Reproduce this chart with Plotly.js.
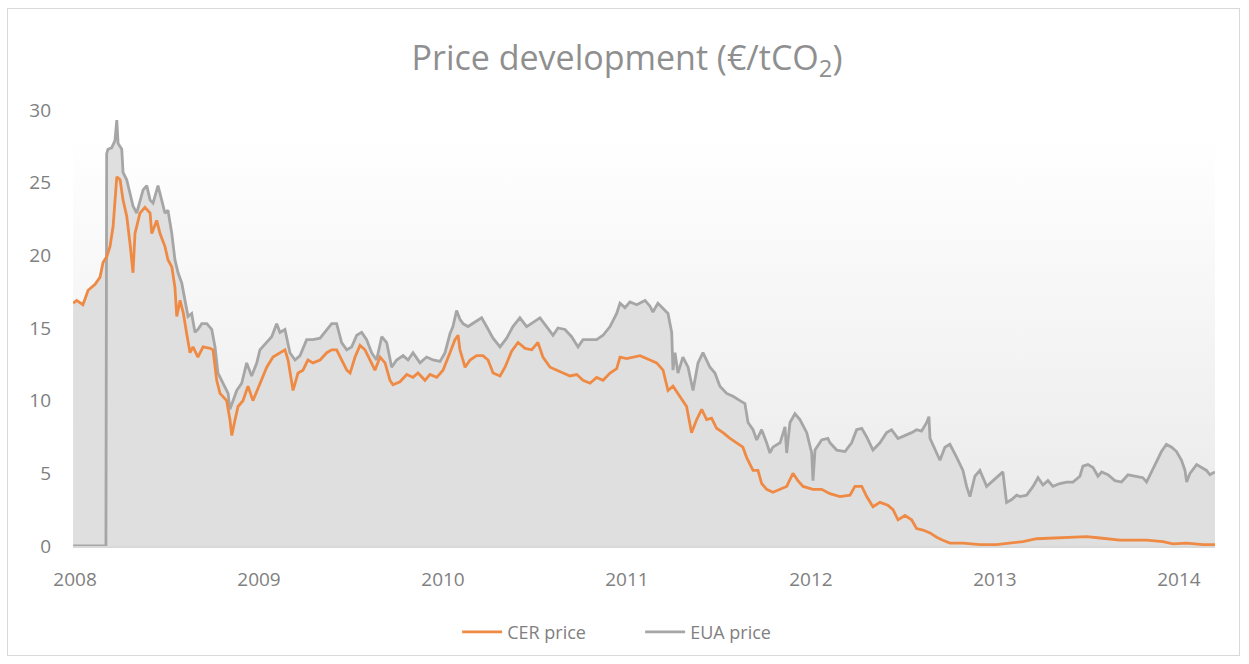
<!DOCTYPE html>
<html>
<head>
<meta charset="utf-8">
<script src="https://cdn.plot.ly/plotly-3.0.1.min.js"></script>
<style>
  html, body { margin:0; padding:0; background:#ffffff; }
  #wrap { position:relative; width:1249px; height:664px; overflow:hidden; }
  #frame { position:absolute; left:7px; top:8px; width:1233px; height:648px; border:1px solid #d9d9d9; box-sizing:border-box; }
  #bg { position:absolute; left:73px; top:110px; width:1142px; height:436px;
        background:linear-gradient(to bottom, #ffffff 0%, #ffffff 6%, #f6f6f6 45%, #e9e9e9 100%); }
  #chart { position:absolute; left:0; top:0; width:1249px; height:664px; }
</style>
</head>
<body>
<div id="wrap">
  <div id="frame"></div>
  <div id="bg"></div>
  <div id="chart"></div>
</div>
<script>
// Decimal-year positions and prices (€/tCO2)
const cerYears = [2007.99,2008.009,2008.043,2008.071,2008.109,2008.136,2008.152,2008.172,2008.190,2008.207,2008.227,2008.245,2008.261,2008.281,2008.299,2008.315,2008.326,2008.353,2008.380,2008.408,2008.417,2008.444,2008.462,2008.489,2008.505,2008.526,2008.543,2008.553,2008.571,2008.589,2008.607,2008.625,2008.641,2008.668,2008.696,2008.734,2008.750,2008.770,2008.788,2008.824,2008.842,2008.852,2008.870,2008.886,2008.913,2008.940,2008.967,2009.005,2009.042,2009.076,2009.114,2009.141,2009.158,2009.185,2009.212,2009.239,2009.266,2009.293,2009.332,2009.368,2009.395,2009.422,2009.449,2009.477,2009.495,2009.522,2009.549,2009.576,2009.603,2009.630,2009.658,2009.685,2009.712,2009.728,2009.766,2009.803,2009.837,2009.864,2009.902,2009.929,2009.966,2010.000,2010.038,2010.065,2010.082,2010.092,2010.120,2010.147,2010.183,2010.217,2010.245,2010.272,2010.310,2010.337,2010.373,2010.408,2010.446,2010.482,2010.516,2010.543,2010.582,2010.618,2010.652,2010.690,2010.727,2010.761,2010.799,2010.835,2010.870,2010.908,2010.944,2010.962,2010.998,2011.033,2011.071,2011.125,2011.161,2011.196,2011.223,2011.250,2011.288,2011.324,2011.351,2011.379,2011.406,2011.433,2011.460,2011.487,2011.522,2011.560,2011.596,2011.630,2011.650,2011.685,2011.712,2011.732,2011.759,2011.793,2011.832,2011.868,2011.902,2011.929,2011.957,2012.011,2012.058,2012.103,2012.158,2012.212,2012.239,2012.276,2012.303,2012.337,2012.375,2012.418,2012.446,2012.473,2012.511,2012.547,2012.574,2012.609,2012.647,2012.683,2012.717,2012.755,2012.826,2012.918,2013.009,2013.098,2013.152,2013.227,2013.315,2013.408,2013.498,2013.571,2013.679,2013.824,2013.913,2013.967,2014.042,2014.130,2014.196];
const cerPrice = [16.7,16.9,16.6,17.6,18.0,18.5,19.5,19.9,20.6,22.0,25.4,25.2,23.8,22.7,20.8,18.8,21.5,22.9,23.3,22.9,21.5,22.4,21.5,20.6,19.7,19.2,17.8,15.8,16.9,16.0,14.6,13.3,13.7,13.0,13.7,13.6,13.5,11.4,10.5,10.0,8.7,7.6,8.7,9.6,10.0,11.0,10.0,11.1,12.3,13.0,13.3,13.5,12.8,10.7,11.9,12.1,12.8,12.6,12.8,13.3,13.5,13.5,12.8,12.1,11.9,13.0,13.8,13.5,12.8,12.1,13.0,12.6,11.4,11.1,11.3,11.8,11.6,11.9,11.4,11.8,11.6,12.1,13.3,14.2,14.5,13.5,12.3,12.8,13.1,13.1,12.8,11.9,11.7,12.3,13.4,14.0,13.6,13.5,14.0,13.0,12.3,12.1,11.9,11.7,11.8,11.4,11.2,11.6,11.4,11.9,12.2,13.0,12.9,13.0,13.1,12.8,12.6,12.1,10.7,11.0,10.3,9.6,7.8,8.7,9.4,8.7,8.8,8.1,7.8,7.4,7.1,6.8,6.1,5.2,5.2,4.3,3.9,3.7,3.9,4.1,5.0,4.5,4.1,3.9,3.9,3.6,3.4,3.5,4.1,4.1,3.4,2.7,3.0,2.8,2.5,1.8,2.1,1.8,1.2,1.1,0.9,0.6,0.4,0.2,0.2,0.1,0.1,0.2,0.3,0.5,0.55,0.65,0.65,0.55,0.4,0.4,0.3,0.15,0.2,0.1,0.1];

const euaYears = [2007.99,2008.168,2008.172,2008.179,2008.199,2008.217,2008.227,2008.234,2008.254,2008.261,2008.281,2008.299,2008.315,2008.335,2008.353,2008.370,2008.390,2008.408,2008.424,2008.451,2008.471,2008.489,2008.505,2008.526,2008.543,2008.560,2008.580,2008.598,2008.614,2008.634,2008.652,2008.668,2008.689,2008.716,2008.743,2008.761,2008.777,2008.804,2008.832,2008.842,2008.859,2008.879,2008.906,2008.933,2008.960,2008.988,2009.005,2009.042,2009.069,2009.096,2009.114,2009.141,2009.168,2009.196,2009.223,2009.259,2009.293,2009.332,2009.368,2009.395,2009.422,2009.449,2009.477,2009.504,2009.531,2009.558,2009.585,2009.612,2009.639,2009.667,2009.694,2009.721,2009.748,2009.783,2009.810,2009.837,2009.875,2009.911,2009.946,2009.984,2010.011,2010.038,2010.054,2010.074,2010.092,2010.109,2010.136,2010.174,2010.210,2010.237,2010.272,2010.310,2010.346,2010.380,2010.418,2010.455,2010.489,2010.527,2010.563,2010.598,2010.625,2010.663,2010.699,2010.734,2010.761,2010.799,2010.835,2010.870,2010.908,2010.944,2010.962,2010.989,2011.016,2011.053,2011.098,2011.125,2011.141,2011.168,2011.207,2011.223,2011.243,2011.250,2011.261,2011.277,2011.304,2011.332,2011.359,2011.386,2011.413,2011.451,2011.478,2011.505,2011.542,2011.576,2011.614,2011.641,2011.658,2011.685,2011.705,2011.732,2011.759,2011.777,2011.793,2011.832,2011.859,2011.868,2011.886,2011.913,2011.940,2011.977,2012.004,2012.011,2012.022,2012.058,2012.092,2012.103,2012.140,2012.185,2012.221,2012.248,2012.276,2012.303,2012.337,2012.375,2012.411,2012.438,2012.473,2012.511,2012.547,2012.574,2012.601,2012.629,2012.641,2012.647,2012.674,2012.701,2012.728,2012.755,2012.792,2012.826,2012.846,2012.864,2012.891,2012.918,2012.955,2012.989,2013.016,2013.043,2013.063,2013.091,2013.118,2013.136,2013.172,2013.207,2013.234,2013.261,2013.288,2013.315,2013.353,2013.390,2013.424,2013.462,2013.478,2013.505,2013.533,2013.560,2013.580,2013.614,2013.652,2013.688,2013.723,2013.761,2013.804,2013.824,2013.851,2013.878,2013.905,2013.932,2013.960,2013.987,2014.014,2014.033,2014.042,2014.060,2014.096,2014.123,2014.150,2014.168,2014.196];
const euaPrice = [0,0,27.0,27.3,27.4,27.9,29.3,27.7,27.3,25.7,25.2,24.3,23.4,22.9,23.8,24.5,24.8,23.8,23.6,24.8,23.8,22.9,23.1,21.5,19.7,18.8,18.1,16.9,15.8,16.0,14.7,14.9,15.3,15.3,14.9,13.7,11.9,11.2,10.5,9.4,10.0,10.7,11.2,12.6,11.7,12.6,13.5,14.0,14.4,15.3,14.7,14.9,13.3,12.8,13.1,14.2,14.2,14.3,14.9,15.3,15.3,14.0,13.5,13.7,14.5,14.7,14.2,13.3,12.8,14.4,14.0,12.3,12.8,13.1,12.8,13.3,12.6,13.0,12.8,12.7,13.3,14.6,15.1,16.2,15.6,15.3,15.1,15.4,15.7,15.1,14.3,13.7,14.3,15.1,15.7,15.1,15.4,15.7,15.1,14.5,15.0,14.9,14.4,13.7,14.2,14.2,14.2,14.5,15.1,16.0,16.7,16.4,16.8,16.6,16.9,16.5,16.1,16.7,16.2,16.0,14.7,12.1,13.3,11.9,13.0,12.3,10.7,12.6,13.3,12.3,11.9,11.0,10.5,10.3,10.0,9.8,8.5,8.0,7.3,8.0,7.1,6.4,6.8,7.1,8.2,6.4,8.5,9.1,8.7,7.8,6.4,4.5,6.6,7.3,7.4,7.1,6.6,6.5,7.1,8.0,8.1,7.5,6.6,7.1,7.8,8.0,7.4,7.6,7.8,8.0,7.9,8.5,8.9,7.4,6.6,5.9,6.8,7.0,6.1,5.2,4.1,3.4,4.8,5.2,4.1,4.5,4.8,5.1,3.0,3.2,3.5,3.4,3.5,4.1,4.7,4.2,4.5,4.1,4.3,4.4,4.4,4.8,5.5,5.6,5.4,4.8,5.1,4.9,4.5,4.4,4.9,4.8,4.7,4.4,5.1,5.9,6.5,7.0,6.8,6.5,5.9,5.2,4.4,5.0,5.6,5.4,5.2,4.9,5.1];

const seriesNames = ['CER price', 'EUA price'];
const yearTicks = [2008, 2009, 2010, 2011, 2012, 2013, 2014];
const yTicks = [0, 5, 10, 15, 20, 25, 30];

const fillGray = '#dfdfdf';
const cerColor = '#ef8a45';
const euaColor = '#a6a6a6';
const textGray = '#808080';
const fam = '"Open Sans", "Noto Sans", sans-serif';

const traces = [
  { x: euaYears, y: euaPrice, type: 'scatter', mode: 'lines', fill: 'tozeroy',
    fillcolor: fillGray, line: { width: 0, color: fillGray }, showlegend: false, hoverinfo: 'skip' },
  { x: cerYears, y: cerPrice, type: 'scatter', mode: 'lines', fill: 'tozeroy',
    fillcolor: fillGray, line: { width: 0, color: fillGray }, showlegend: false, hoverinfo: 'skip' },
  { x: euaYears, y: euaPrice, type: 'scatter', mode: 'lines', name: seriesNames[1],
    line: { color: euaColor, width: 2.8 }, legendrank: 2 },
  { x: cerYears, y: cerPrice, type: 'scatter', mode: 'lines', name: seriesNames[0],
    line: { color: cerColor, width: 2.8 }, legendrank: 1 }
];

const layout = {
  width: 1249, height: 664,
  paper_bgcolor: 'rgba(0,0,0,0)', plot_bgcolor: 'rgba(0,0,0,0)',
  margin: { l: 73, r: 34, t: 110, b: 118 },
  font: { family: fam, color: textGray, size: 18 },
  title: {
    text: 'Price development (€/tCO<sub>2</sub>)',
    font: { size: 34, color: '#8f8f8f', family: fam },
    x: 0.502, xref: 'container', xanchor: 'center',
    y: 0.913, yref: 'container', yanchor: 'middle'
  },
  xaxis: {
    type: 'linear', range: [2007.989, 2014.196],
    tickvals: yearTicks, ticktext: yearTicks.map(String),
    showgrid: false, zeroline: false, showline: true, linecolor: '#d9d9d9', linewidth: 1.5,
    ticks: '', ticklabelstandoff: 16, tickfont: { size: 19, color: textGray, family: fam }
  },
  yaxis: {
    range: [0, 30], tickvals: yTicks, showgrid: false, zeroline: false, showline: false,
    ticks: '', ticklabelstandoff: 21, tickfont: { size: 19, color: textGray, family: fam }
  },
  legend: {
    orientation: 'h', x: 0.366, xanchor: 'left', xref: 'container',
    y: 0.048, yref: 'container', yanchor: 'middle',
    font: { size: 18, color: textGray, family: fam }, bgcolor: 'rgba(0,0,0,0)',
    itemwidth: 40, entrywidth: 128, entrywidthmode: 'pixels'
  },
  showlegend: true
};

Plotly.newPlot('chart', traces, layout, { displayModeBar: false, staticPlot: true });
</script>
</body>
</html>
